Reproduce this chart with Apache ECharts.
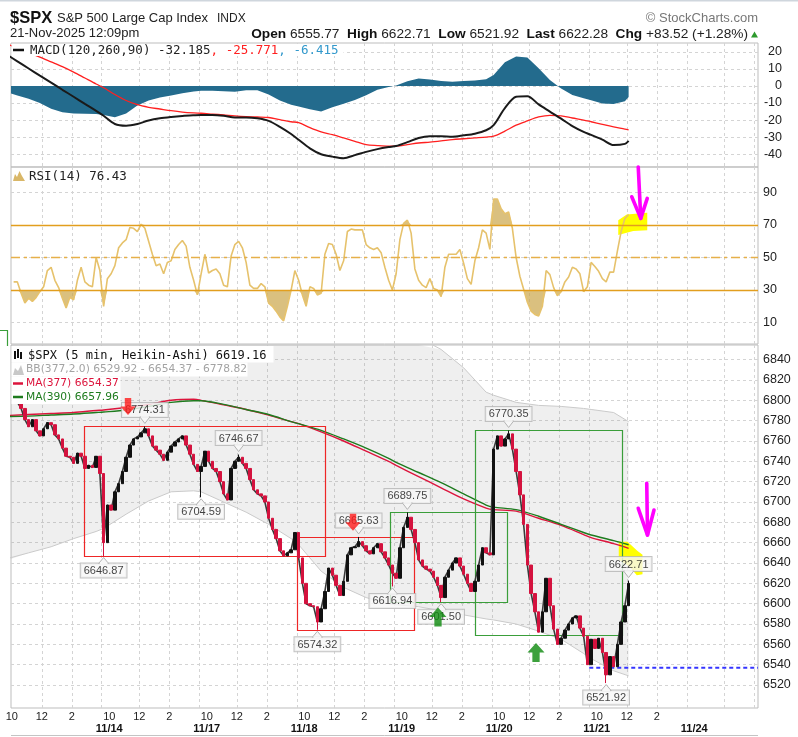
<!DOCTYPE html>
<html>
<head>
<meta charset="utf-8">
<script src="https://cdn.jsdelivr.net/npm/echarts@6/dist/echarts.min.js"></script>
<style>
html,body{margin:0;padding:0;background:#ffffff;}
#chart{width:798px;height:737px;}
</style>
</head>
<body>
<div id="chart"></div>
<script>
// ---------------- time axis ----------------
const sessionDays = ['11/13','11/14','11/17','11/18','11/19','11/20','11/21','11/24'];
const BARS_PER_DAY = 78;               // 5-minute bars, 9:30-16:00
const axisStart = '11/13 09:57';
const axisEnd = '11/24 14:15';
const lastBarTime = '11/21 12:00';     // last (partial) 15-min slot
const labelTimes = ['10:00','12:00','14:00'];
const gridTimes = ['09:30','12:00','14:00'];

// ---------------- price (15-min Heikin-Ashi closes, from 11/13 10:00) ----------------
const priceStart = '11/13 10:00';
const priceCloses = [
  6802,6798,6792,6781,6774,6781,6770,6765,6772,6778,6776,6766,6762,6753,6745,6744,6738,6748,6745,6733,6736,6734,6745,6728,
  6660,6697,6692,6710,6718,6730,6744,6756,6762,6764,6768,6772,6765,6755,6751,6747,6741,6749,6755,6759,6762,6765,6756,6747,6737,6730,
  6735,6750,6740,6733,6730,6720,6708,6702,6733,6740,6744,6738,6733,6722,6712,6708,6706,6700,6684,6673,6664,6652,6647,6650,6653,6670,
  6645,6620,6600,6598,6597,6582,6595,6612,6635,6628,6618,6608,6622,6648,6655,6656,6661,6657,6652,6649,6655,6659,6651,6645,6638,6630,
  6625,6655,6675,6685,6673,6660,6643,6637,6634,6632,6626,6618,6606,6626,6633,6640,6645,6637,6629,6620,6612,6622,6638,6655,6650,6648,
  6752,6765,6755,6762,6767,6752,6730,6707,6678,6638,6610,6592,6572,6592,6625,6598,6575,6560,6566,6574,6580,6586,6588,6576,6568,6540,
  6565,6556,6566,6552,6530,6548,6538,6560,6582,6598,6620
];
// swing highs / lows (labelled on chart)
const swingHighs = [
  ['11/14 12:15', 6774.31], ['11/17 12:00', 6746.67], ['11/18 13:30', 6665.63],
  ['11/19 10:15', 6689.75], ['11/20 10:30', 6770.35], ['11/21 12:00', 6622.71]
];
const swingLows = [
  ['11/14 09:30', 6646.87], ['11/17 09:30', 6704.59], ['11/18 10:45', 6574.32],
  ['11/18 15:45', 6616.94], ['11/19 12:30', 6601.50], ['11/21 10:30', 6521.92]
];

// ---------------- overlays (every 90 min, from 11/13 09:30) ----------------
const overlayStart = '11/13 09:30';
const ma377 = [6785,6786,6787,6788,6790, 6790.5,6793,6796,6800,6801, 6800,6795.5,6791,6785.5,6779, 6777,6769,6760,6750,6740, 6736,6725,6714,6703,6694, 6692.5,6691,6684,6677,6668, 6665,6659,6654.4];
const ma390 = [6784,6784.5,6785.5,6786.5,6788, 6788.5,6790.5,6794,6798,6799.5, 6799.5,6796,6791,6786,6779, 6777,6770.5,6762,6753,6743, 6739,6729,6719,6708,6697, 6695,6692.5,6686,6678,6670, 6667.5,6662,6658];
const bbUpper = [6925,6920,6918,6912,6908, 6907,6898,6893,6891,6890, 6891,6894,6896,6894,6895, 6894,6900,6898,6890,6878, 6873,6862,6850,6832,6808, 6805,6798,6795,6794,6792, 6791,6788,6779];
const bbLower = [6644,6650,6656,6664,6671, 6674,6688,6701,6710,6711, 6710,6700,6690,6678,6664, 6658,6632,6616,6606,6600, 6599,6597,6593,6589,6585, 6584,6580,6573,6565,6551, 6546,6534,6529];

// ---------------- MACD(120,260,90) (every 45 min, from 11/13 09:30) ----------------
const macdStart = '11/13 09:30';
const macdLine = [18.7,14.5,10.3,6.1,2,-2.2,-6.3,-10.5,-14.6,
  -17.5,-22.3,-23.3,-22.3,-20.3,-19,-18.2,-17.6,-17.2,
  -17,-17,-17.5,-18.5,-18.5,-19,-20.5,-24,-28.2,
  -31.6,-36.6,-40.1,-41.5,-42.4,-40.6,-38.7,-37.1,-35.9,
  -35.3,-33,-30.5,-29.5,-29.5,-29.8,-29,-28,-26,
  -23,-13,-6.3,-6,-10.8,-15,-19.2,-23.6,-27,
  -28.7,-31.5,-34.7,-34,-32.2];
const macdSignal = [25,22.3,19.6,17,14.2,11.4,8.2,4.7,1.2,
  -1,-5,-8.5,-11,-12.5,-13.5,-14.5,-15.3,-15.8,
  -16,-16.5,-17,-17.6,-18,-18.2,-18.5,-19.8,-21,
  -21.5,-24.5,-27,-28.6,-30.5,-32.5,-34.5,-35,-35.3,
  -35.3,-34.5,-33.5,-33,-32.3,-31.5,-31,-30.5,-30,
  -29.5,-26.5,-23,-20.5,-18.2,-17.2,-17.5,-18.8,-20,
  -21,-22.5,-24,-25.3,-25.8];
const macdHist = [-3.5,-5.5,-7.5,-10,-13.3,-15.4,-16.2,-16.3,-16.5,
  -17,-18.4,-16.2,-11.5,-8.5,-6.8,-5.6,-4.3,-3.2,
  -2.7,-2.7,-3,-3.3,-2.5,-2.5,-5,-8.5,-11,
  -12,-13.7,-15,-12.4,-10.4,-8.2,-5.4,-2.2,-0.5,
  0.3,2.8,4.5,3.8,3,2.5,3,3.3,4,
  6.5,14,17.3,16.8,10.5,3.6,-1.5,-5.3,-7.2,
  -8.3,-10.3,-10.6,-9,-6.4];

// ---------------- RSI(14) (15-min, from 11/13 10:00) ----------------
const rsiStart = '11/13 10:00';
const rsi14 = [
  35,35,28,22,25,23,25.5,29,32,42,44,36,31.5,25,19,25.5,24,36,44,35,33,32,50,42,
  20,37,40,45,56,59,61,68.5,68,66,70.5,68,60,52,45,46,40,47,48,55,58,60.5,57,44,36,27,
  40,52,40.5,42,43,40,33,32,51,58,60,56,47,33,31,31,34,32,22,20,17,13.5,11,20,30,42,
  36,27,20,32,31,27,28,52,58.7,58,52,42,48,66,67.5,67,67,67,58,56,55,56,53,44,36,30,
  40,61,71,73,65,43,36,33,31.5,37,31,30,26,44,52,52,52,55,46.5,37,33.5,48,56,67,65,55,
  86,86,80,77,78,68,50,38.5,30.5,22.5,17,15,14,20,42,39.5,31.5,26.5,29,35,38,44,43,40,29,32,
  47,44.5,41.5,37,35,41,41,54,66,74,76.4
];
const rsiOverbought = 70, rsiMid = 50, rsiOversold = 30;

// ---------------- tick labels ----------------
const priceTicks = [6520,6540,6560,6580,6600,6620,6640,6660,6680,6700,6720,6740,6760,6780,6800,6820,6840];
const macdTicks = [20,10,0,-10,-20,-30,-40];
const rsiTicks = [90,70,50,30,10];
const priceRange = [6497.4, 6854.4];
const macdRange = [-47.6, 25.3];
const rsiRange = [-3.2, 105.7];

// ---------------- user annotations ----------------
const redBoxes = [   // [from, to, low, high]
  ['11/13 14:49','11/18 11:23', 6646.87, 6774.31],
  ['11/18 09:31','11/19 10:49', 6574.32, 6665.63]
];
const greenBoxes = [
  ['11/18 15:43','11/20 10:31', 6601.50, 6689.75],
  ['11/19 14:53','11/21 11:41', 6569.00, 6770.35]
];
const downArrows = [['11/14 11:15', 6794], ['11/18 13:15', 6680]];
const upArrows = [['11/19 12:25', 6587], ['11/20 12:27', 6552]];
const supportFrom = '11/21 09:30', supportPrice = 6537;
const penMain = [
  [['11/21 13:20',6718.4],['11/21 13:23',6667.5]],
  [['11/21 12:46',6693.8],['11/21 13:23',6667.5],['11/21 13:49',6692.1]]
];
const penRsi = [
  [['11/21 12:46',105.7],['11/21 12:56',74.1]],
  [['11/21 12:20',87.4],['11/21 12:56',74.1],['11/21 13:22',86.4]]
];
const highlightMain = [['11/21 11:28',6661],['11/21 12:03',6661],['11/21 12:42',6652],['11/21 13:03',6648],['11/21 13:03',6629],['11/21 12:40',6628],['11/21 12:13',6636],['11/21 11:37',6642],['11/21 11:28',6643]];
const highlightRsi = [['11/21 11:26',73],['11/21 12:00',76.5],['11/21 13:22',77.5],['11/21 13:22',66.8],['11/21 12:26',66.3],['11/21 11:26',63.8]];

// ---------------- helpers ----------------
function barPos(t) {
  const parts = t.split(' ');
  const d = sessionDays.indexOf(parts[0]);
  const hm = parts[1].split(':').map(Number);
  return d * BARS_PER_DAY + (hm[0] * 60 + hm[1] - 570) / 5;
}
const X_MIN = barPos(axisStart), X_MAX = barPos(axisEnd);
function sampleGrid(count, start, stepMin) {
  const xs = []; let p = barPos(start) + 1.5; const step = stepMin / 5;
  while (xs.length < count - 1) {
    xs.push(p);
    const n = p + step;
    p = Math.floor(n / BARS_PER_DAY) > Math.floor(p / BARS_PER_DAY) ? Math.floor(n / BARS_PER_DAY) * BARS_PER_DAY + 1.5 : n;
  }
  xs.push(barPos(lastBarTime) + 1.5);
  return xs;
}
const priceX = sampleGrid(priceCloses.length, priceStart, 15);
const rsiX = sampleGrid(rsi14.length, rsiStart, 15);
const macdX = sampleGrid(macdLine.length, macdStart, 45);
const ovX = sampleGrid(ma377.length, overlayStart, 90);
const pair = (xs, ys) => ys.map((v, i) => [xs[i], v]);

const candles = priceCloses.map((c, j) => {
  const o = j === 0 ? c : priceCloses[j - 1];
  let lo = Math.min(o, c), hi = Math.max(o, c);
  swingLows.forEach(s => { if (Math.abs(barPos(s[0]) + 1.5 - priceX[j]) < 0.01) lo = Math.min(lo, s[1]); });
  swingHighs.forEach(s => { if (Math.abs(barPos(s[0]) + 1.5 - priceX[j]) < 0.01) hi = Math.max(hi, s[1]); });
  return [priceX[j], o, c, lo, hi];
});

const labelTicks = [];
sessionDays.forEach((day, d) => {
  if (d < sessionDays.length - 1) labelTimes.forEach(t => labelTicks.push(barPos(day + ' ' + t)));
  else labelTicks.push(barPos(day + ' 10:00'));
});
const gridTicks = [];
sessionDays.forEach(day => gridTimes.forEach(t => { const p = barPos(day + ' ' + t); if (p > X_MIN && p < X_MAX) gridTicks.push(p); }));

const gridLine = {color:'#d4d4d4', width:1, type:[3,3]};
function xAxisFor(gi) {
  const ax = {gridIndex: gi, type:'value', min: X_MIN, max: X_MAX,
    axisLine:{show:false}, axisTick:{show:false, customValues: gridTicks},
    splitLine:{show:true, lineStyle: gridLine}, axisLabel:{show:false}};
  if (gi === 2) {
    ax.axisLabel = {show:true, customValues: labelTicks, margin: 3, fontSize: 11, fontFamily:'Arial', color:'#222', lineHeight: 12,
      formatter: v => {
        const d = Math.floor(v / BARS_PER_DAY + 1e-9);
        const mins = 570 + Math.round((v - d * BARS_PER_DAY) * 5);
        let h = Math.floor(mins / 60); if (h > 12) h -= 12;
        if (d === sessionDays.length - 1) return ' \n{d|' + sessionDays[d] + '}';
        if (mins === 600 && d > 0) return h + '\n{d|' + sessionDays[d] + '}';
        return String(h);
      },
      rich:{d:{fontWeight:'bold', fontSize:11, fontFamily:'Arial', color:'#111', lineHeight:12}}};
  }
  return ax;
}
function yAxisFor(gi, range, ticks, extra) {
  return {gridIndex: gi, type:'value', position:'right', min: range[0], max: range[1],
    axisLine:{show:false}, axisTick:{show:false, customValues: ticks},
    axisLabel: Object.assign({customValues: ticks, color:'#222', fontSize:12.5, fontFamily:'Arial', margin:5,
      formatter: v => String(v)}, extra || {}),
    splitLine:{show:true, lineStyle: gridLine}};
}
function clampX(x) { return Math.min(Math.max(x, X_MIN), X_MAX); }

// polygon through data coords
function polyRender(list, fill) {
  return (params, api) => ({type:'polygon', shape:{points: list[params.dataIndex].map(p => api.coord([barPos(p[0]), p[1]]))}, style:{fill: fill}});
}
function penRender(strokes) {
  return (params, api) => ({type:'polyline', shape:{points: strokes[params.dataIndex].map(p => api.coord([barPos(p[0]), p[1]]))},
    style:{stroke:'#ff00ff', lineWidth:3.6, fill:'none', lineCap:'round', lineJoin:'round'}});
}
function boxRender(list, color) {
  return (params, api) => {
    const b = list[params.dataIndex];
    const p1 = api.coord([barPos(b[0]), b[3]]), p2 = api.coord([barPos(b[1]), b[2]]);
    const x1 = Math.round(p1[0]) + 0.5, y1 = Math.round(p1[1]) + 0.5, x2 = Math.round(p2[0]) + 0.5, y2 = Math.round(p2[1]) + 0.5;
    return {type:'rect', shape:{x:x1, y:y1, width:x2 - x1, height:y2 - y1}, style:{fill:'none', stroke: color, lineWidth:1.2}};
  };
}
// little pointer under/over each value box
function pointerRender(list, dir) {
  return (params, api) => {
    const s = list[params.dataIndex];
    const p = api.coord([barPos(s[0]) + 1.5, s[1]]);
    const pts = dir > 0
      ? [[p[0] - 5, p[1] - 9.5], [p[0] + 5, p[1] - 9.5], [p[0], p[1] - 3]]
      : [[p[0] - 5, p[1] + 7.5], [p[0] + 5, p[1] + 7.5], [p[0], p[1] + 1.5]];
    return {type:'group', children:[
      {type:'polygon', shape:{points: pts}, style:{fill:'#f7f7f7', stroke:'#b4b4b4', lineWidth:1}},
      {type:'line', shape:{x1:pts[0][0] + 1, y1:pts[0][1], x2:pts[1][0] - 1, y2:pts[1][1]}, style:{stroke:'#f7f7f7', lineWidth:1.6}}
    ]};
  };
}
const DOWN_PATH = 'path://M4,0 L10,0 L10,8 L14,8 L7,16 L0,8 L4,8 Z';
const UP_PATH = 'path://M7,0 L14,8 L10,8 L10,16 L4,16 L4,8 L0,8 Z';

const series = [
  // ---- MACD ----
  {type:'line', xAxisIndex:0, yAxisIndex:0, data: pair(macdX, macdHist), symbol:'none', silent:true,
   lineStyle:{width:0}, areaStyle:{color:'#236b8d', opacity:1}, z:2},
  {type:'line', xAxisIndex:0, yAxisIndex:0, data: pair(macdX, macdSignal), symbol:'none', silent:true, smooth:0.3,
   lineStyle:{color:'#ff2020', width:1.3}, z:3},
  {type:'line', xAxisIndex:0, yAxisIndex:0, data: pair(macdX, macdLine), symbol:'none', silent:true, smooth:0.3,
   lineStyle:{color:'#1a1a1a', width:2}, z:3},
  // ---- RSI ----
  {type:'custom', xAxisIndex:1, yAxisIndex:1, silent:true, z:2,
   data:[[rsiX[0], rsiOversold], [rsiX[0], rsiOverbought]],
   renderItem:(params, api) => {
     const lvl = params.dataIndex === 0 ? rsiOversold : rsiOverbought;
     const f = params.dataIndex === 0 ? Math.min : Math.max;
     const pts = rsiX.map((x, i) => api.coord([clampX(x), f(rsi14[i], lvl)]));
     for (let i = rsiX.length - 1; i >= 0; i--) pts.push(api.coord([clampX(rsiX[i]), lvl]));
     return {type:'polygon', shape:{points: pts}, style:{fill:'rgba(204,168,78,0.72)'}};
   }},
  {type:'custom', xAxisIndex:1, yAxisIndex:1, silent:true, z:2,
   data:[[barPos(highlightRsi[0][0]), highlightRsi[0][1]]], renderItem: polyRender([highlightRsi], '#ffff00')},
  {type:'line', xAxisIndex:1, yAxisIndex:1, data: pair(rsiX, rsi14), symbol:'none', silent:true,
   lineStyle:{color:'#e6c26c', width:1.6}, z:3,
   markLine:{silent:true, symbol:['none','none'], label:{show:false}, animation:false,
     lineStyle:{color:'#e29e1e', width:1.3, type:'solid'},
     data:[{yAxis: rsiOverbought}, {yAxis: rsiOversold}, {yAxis: rsiMid, lineStyle:{type:[9,4,3,4], color:'#e6b04a'}}]}},
  {type:'custom', xAxisIndex:1, yAxisIndex:1, silent:true, z:5,
   data: penRsi.map(s => [barPos(s[1][0]), s[1][1]]), renderItem: penRender(penRsi)},
  // ---- price panel ----
  {type:'custom', xAxisIndex:2, yAxisIndex:2, silent:true, z:1,
   data:[[ovX[1], bbLower[1]]],
   renderItem:(params, api) => {
     const top = [], bot = [];
     ovX.forEach((x, i) => {
       top.push(api.coord([clampX(x), Math.min(bbUpper[i], priceRange[1])]));
       bot.push(api.coord([clampX(x), bbLower[i]]));
     });
     return {type:'polygon', shape:{points: top.concat(bot.reverse())}, style:{fill:'rgba(128,128,128,0.13)'}};
   }},
  {type:'line', xAxisIndex:2, yAxisIndex:2, data: pair(ovX, bbUpper), symbol:'none', silent:true,
   lineStyle:{color:'#cacaca', width:1}, z:2},
  {type:'line', xAxisIndex:2, yAxisIndex:2, data: pair(ovX, bbLower), symbol:'none', silent:true,
   lineStyle:{color:'#cacaca', width:1}, z:2},
  {type:'custom', xAxisIndex:2, yAxisIndex:2, silent:true, z:2,
   data:[[barPos(highlightMain[0][0]), highlightMain[0][1]]], renderItem: polyRender([highlightMain], '#ffff00')},
  {type:'line', xAxisIndex:2, yAxisIndex:2, data: pair(ovX, ma377), symbol:'none', silent:true, smooth:0.3,
   lineStyle:{color:'#dc143c', width:1.4}, z:3},
  {type:'line', xAxisIndex:2, yAxisIndex:2, data: pair(ovX, ma390), symbol:'none', silent:true, smooth:0.3,
   lineStyle:{color:'#1e7b1e', width:1.4}, z:3},
  // close path beneath the Heikin-Ashi bodies keeps the trace continuous
  {type:'line', xAxisIndex:2, yAxisIndex:2, data: pair(priceX, priceCloses), symbol:'none', silent:true,
   lineStyle:{color:'#3a3a3a', width:1.6}, z:4},
  {type:'candlestick', xAxisIndex:2, yAxisIndex:2, data: candles, barWidth: 2.9, silent:true,
   encode:{x:0, y:[1,2,3,4]},
   itemStyle:{color:'#111111', color0:'#d4123e', borderColor:'#111111', borderColor0:'#d4123e', borderWidth:1}, z:4},
  {type:'custom', xAxisIndex:2, yAxisIndex:2, silent:true, z:4,
   data: redBoxes.map(b => [barPos(b[0]), b[3]]), renderItem: boxRender(redBoxes, '#ee2626')},
  {type:'custom', xAxisIndex:2, yAxisIndex:2, silent:true, z:4,
   data: greenBoxes.map(b => [barPos(b[0]), b[3]]), renderItem: boxRender(greenBoxes, '#3a9e3a')},
  {type:'custom', xAxisIndex:2, yAxisIndex:2, silent:true, z:4,
   data:[[barPos(supportFrom), supportPrice]],
   renderItem:(params, api) => {
     const a = api.coord([barPos(supportFrom), supportPrice]), b = api.coord([X_MAX, supportPrice]);
     return {type:'line', shape:{x1:a[0], y1:a[1], x2:b[0], y2:b[1]}, style:{stroke:'#3434ff', lineWidth:1.8, lineDash:[4,3]}};
   }},
  {type:'scatter', xAxisIndex:2, yAxisIndex:2, silent:true, z:6, symbolSize:1,
   itemStyle:{color:'rgba(0,0,0,0)'},
   data: swingHighs.map(s => ({value:[barPos(s[0]) + 1.5, s[1]], label:{position:'top', distance:9}}))
     .concat(swingLows.map(s => ({value:[barPos(s[0]) + 1.5, s[1]], label:{position:'bottom', distance:7}}))),
   label:{show:true, formatter: p => p.value[1].toFixed(2), fontSize:11, fontFamily:'Arial', color:'#111',
     backgroundColor:'#f7f7f7', borderColor:'#b4b4b4', borderWidth:1, padding:[2,3,1,3]}},
  {type:'custom', xAxisIndex:2, yAxisIndex:2, silent:true, z:7,
   data: swingHighs.map(s => [barPos(s[0]) + 1.5, s[1]]), renderItem: pointerRender(swingHighs, 1)},
  {type:'custom', xAxisIndex:2, yAxisIndex:2, silent:true, z:7,
   data: swingLows.map(s => [barPos(s[0]) + 1.5, s[1]]), renderItem: pointerRender(swingLows, -1)},
  {type:'scatter', xAxisIndex:2, yAxisIndex:2, silent:true, z:8,
   data: downArrows.map(a => ({value:[barPos(a[0]), a[1]], symbol: DOWN_PATH, symbolSize:[15,17], itemStyle:{color:'#ff1a1a'}}))
     .concat(upArrows.map(a => ({value:[barPos(a[0]), a[1]], symbol: UP_PATH, symbolSize:[17,19], itemStyle:{color:'#0d8a0d'}})))},
  {type:'custom', xAxisIndex:2, yAxisIndex:2, silent:true, z:8,
   data: penMain.map(s => [barPos(s[1][0]), s[1][1]]), renderItem: penRender(penMain)}
];

// ---------------- header & panel legends ----------------
const G = [];
const MONO = "'DejaVu Sans Mono', monospace";
function addText(x, y, text, style) { G.push({type:'text', x:x, y:y, z:101, style:Object.assign({text:text, verticalAlign:'middle', align:'left'}, style)}); }
function addRect(x, y, w, h, fill) { G.push({type:'rect', z:100, shape:{x:x, y:y, width:w, height:h}, style:{fill:fill}}); }
function addLine(x1, y1, x2, y2, stroke, lw) { G.push({type:'line', z:101, shape:{x1:x1, y1:y1, x2:x2, y2:y2}, style:{stroke:stroke, lineWidth:lw}}); }
function addPoly(points, fill) { G.push({type:'polygon', z:101, shape:{points:points}, style:{fill:fill}}); }

addRect(0, 0, 798, 1.5, '#cfd6dd');
addText(10, 18, '$SPX', {fontFamily:'Arial', fontWeight:'bold', fontSize:16.5, fill:'#111'});
addText(57, 18.5, 'S&P 500 Large Cap Index', {fontFamily:'Arial', fontSize:13, fill:'#222'});
addText(217, 18.5, 'INDX', {fontFamily:'Arial', fontSize:12, fill:'#222'});
addText(10, 33.5, '21-Nov-2025 12:09pm', {fontFamily:'Arial', fontSize:13, fill:'#222'});
addText(748, 34, '{b|Open} 6555.77  {b|High} 6622.71  {b|Low} 6521.92  {b|Last} 6622.28  {b|Chg} +83.52 (+1.28%)',
  {fontFamily:'Arial', fontSize:13.7, fill:'#222', align:'right',
   rich:{b:{fontFamily:'Arial', fontSize:13.7, fontWeight:'bold', fill:'#111'}}});
addPoly([[751,37.5],[758,37.5],[754.5,31.5]], '#2d9a2d');
addText(758, 18, '\u00A9 StockCharts.com', {fontFamily:'Arial', fontSize:13, fill:'#777', align:'right'});

// MACD legend
addRect(11.5, 44, 332, 12, '#ffffff');
addLine(13, 50, 24, 50, '#111', 2.5);
addText(30, 50.5, '{k|MACD(120,260,90) -32.185}{r|, -25.771}{c|, -6.415}',
  {fontFamily:MONO, fontSize:12.5, fill:'#222',
   rich:{k:{fontFamily:MONO, fontSize:12.5, fill:'#222'}, r:{fontFamily:MONO, fontSize:12.5, fill:'#ff2020'}, c:{fontFamily:MONO, fontSize:12.5, fill:'#3399cc'}}});
// RSI legend
addPoly([[13,181],[15,174],[17,177],[19.5,171],[22,176],[25,181]], '#d9b768');
addText(29, 177, 'RSI(14) 76.43', {fontFamily:MONO, fontSize:12.5, fill:'#222'});
// price legend
addRect(11.5, 346, 262, 16.5, '#ffffff');
addRect(11.5, 362.5, 236, 14, '#ffffff');
addRect(11.5, 376.5, 109, 14, '#ffffff');
addRect(11.5, 390.5, 109, 13.5, '#ffffff');
G.push({type:'rect', z:101, shape:{x:14, y:351, width:2, height:8}, style:{fill:'#111'}});
G.push({type:'rect', z:101, shape:{x:17, y:349, width:2, height:9}, style:{fill:'#111'}});
G.push({type:'rect', z:101, shape:{x:20, y:352, width:2, height:7}, style:{fill:'#111'}});
addText(28, 355.5, '$SPX (5 min, Heikin-Ashi) 6619.16', {fontFamily:MONO, fontSize:12, fill:'#111'});
addPoly([[13,375],[15,368],[18,371],[21,365],[24,375]], '#c8c8c8');
addText(26, 369.5, 'BB(377,2.0) 6529.92 - 6654.37 - 6778.82', {fontFamily:"'DejaVu Sans'", fontSize:10.7, fill:'#a3a3a3'});
addLine(13, 383.5, 23, 383.5, '#dc143c', 2.5);
addText(26, 383.5, 'MA(377) 6654.37', {fontFamily:"'DejaVu Sans'", fontSize:10.7, fill:'#dc143c'});
addLine(13, 397, 23, 397, '#1e7b1e', 2.5);
addText(26, 397, 'MA(390) 6657.96', {fontFamily:"'DejaVu Sans'", fontSize:10.7, fill:'#1e7b1e'});
// stray annotation corner at left and lower frame line
G.push({type:'polyline', z:101, shape:{points:[[0,330.5],[7.5,330.5],[7.5,346]]}, style:{stroke:'#3a9e3a', lineWidth:1.2, fill:'none'}});
addLine(11, 735.5, 758, 735.5, '#c4c4c4', 1);

const option = {
  animation: false,
  backgroundColor: '#ffffff',
  textStyle: {fontFamily: 'Arial'},
  grid: [
    {left:11, right:40, top:43, height:124, show:true, borderColor:'#bdbdbd', borderWidth:1, backgroundColor:'rgba(0,0,0,0)'},
    {left:11, right:40, top:167, height:177, show:true, borderColor:'#bdbdbd', borderWidth:1, backgroundColor:'rgba(0,0,0,0)'},
    {left:11, right:40, top:345, height:363, show:true, borderColor:'#bdbdbd', borderWidth:1, backgroundColor:'rgba(0,0,0,0)'}
  ],
  xAxis: [xAxisFor(0), xAxisFor(1), xAxisFor(2)],
  yAxis: [
    yAxisFor(0, macdRange, macdTicks, {align:'right', margin:24}),
    yAxisFor(1, rsiRange, rsiTicks),
    yAxisFor(2, priceRange, priceTicks)
  ],
  series: series,
  graphic: G
};
const chart = echarts.init(document.getElementById('chart'), null, {renderer:'canvas', width:798, height:737});
chart.setOption(option);
</script>
</body>
</html>
